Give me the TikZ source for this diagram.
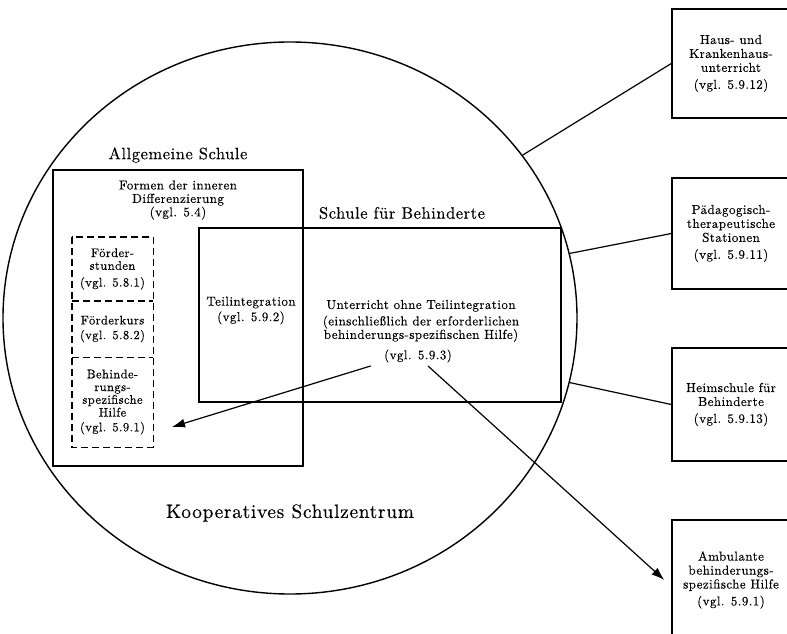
\documentclass[tikz,border=0pt]{standalone}
\usepackage{fontspec}
\setmainfont{lmroman10-regular.otf}[LetterSpace=3.5, FakeBold=0.3]
\usetikzlibrary{shapes.geometric,arrows.meta}

\begin{document}
\begin{tikzpicture}[
x=1bp,
y=-1bp,
rect/.style={
draw,
line width=1.4bp,
inner sep=0pt,
},
gestrichelt/.style={
dash pattern=on 7bp off 4bp,
line width=1.4bp,
},
feld/.style={
minimum width=81bp,
inner sep=0pt,
align=center,
font=\fontsize{12.5}{12.8}\selectfont,
},
aussen/.style={
rect,
minimum width=118bp,
align=center,
font=\fontsize{13}{14}\selectfont,
},
linie/.style={
line width=1.2bp,
},
pfeil/.style={
->,
>={Latex[length=13bp,width=9bp]},
line width=1.2bp,
},
titel/.style={
font=\fontsize{16.5}{19}\selectfont,
},
font=\fontsize{13}{13.5}\selectfont,
]
\useasboundingbox (0,0) rectangle (787,634);

\node[draw, ellipse, line width=1.4bp, inner sep=0pt, minimum width=574bp, minimum height=552bp] at (290,318) (zentrum) {};
\node[font=\fontsize{19.5}{23}\selectfont] at (290,513) (kszentrum) {Kooperatives Schulzentrum};

\node[rect, minimum width=250bp, minimum height=296bp] at (178,318) (as) {};
\node[titel] at (178,155) (astitel) {Allgemeine Schule};
\node[align=center] at (178,200) (formen) {Formen der inneren\\Differenzierung\\(vgl. 5.4)};

\node[feld, minimum height=64bp] at (112.5,269) (stunden) {Förder-\\stunden\\[4bp](vgl. 5.8.1)};
\node[feld, minimum height=56bp] at (112.5,329) (kurs) {Förderkurs\\[2bp](vgl. 5.8.2)};
\node[feld, minimum height=90bp] at (112.5,402) (hilfe) {Behinde-\\rungs-\\spezifische\\Hilfe\\[2bp](vgl. 5.9.1)};
\draw[gestrichelt] (stunden.north west) rectangle (hilfe.south east);
\draw[gestrichelt] (kurs.north west) -- (kurs.north east);
\draw[gestrichelt] (kurs.south west) -- (kurs.south east);

\node[rect, minimum width=362bp, minimum height=174bp] at (380,315) (sfb) {};
\node[titel] at (402,213) (sfbtitel) {Schule für Behinderte};
\node[align=center] at (251,310.5) (teil) {Teilintegration\\[2bp](vgl. 5.9.2)};
\node[align=center] at (421,321) (unterricht) {Unterricht ohne Teilintegration\\[3bp](einschließlich der erforderlichen\\behinderungs-spezifischen Hilfe)};
\node at (418,356) (vgl593) {(vgl. 5.9.3)};

\node[aussen, minimum height=109bp] at (731,63.5) (haus) {Haus- und\\Krankenhaus-\\unterricht\\[3bp](vgl. 5.9.12)};
\node[aussen, minimum height=111bp] at (731,233.5) (stationen) {Pädagogisch-\\therapeutische\\Stationen\\[3bp](vgl. 5.9.11)};
\node[aussen, minimum height=113bp] at (731,404.5) (heim) {Heimschule für\\Behinderte\\[3bp](vgl. 5.9.13)};
\node[aussen, minimum height=120bp] at (731,580) (ambulant) {Ambulante\\behinderungs-\\spezifische Hilfe\\[3bp](vgl. 5.9.1)};

\draw[linie] (zentrum.35) -- (haus.west);
\draw[linie] (zentrum.13.5) -- (stationen.west);
\draw[linie] (zentrum.-13) -- (heim.west);

\coordinate (hilfepfeil) at (172,427);
\draw[pfeil] ([xshift=-10bp]vgl593.south west) -- (hilfepfeil);
\draw[pfeil] ([xshift=10bp]vgl593.south) -- ([xshift=-7bp]ambulant.west);

\end{tikzpicture}
\end{document}
